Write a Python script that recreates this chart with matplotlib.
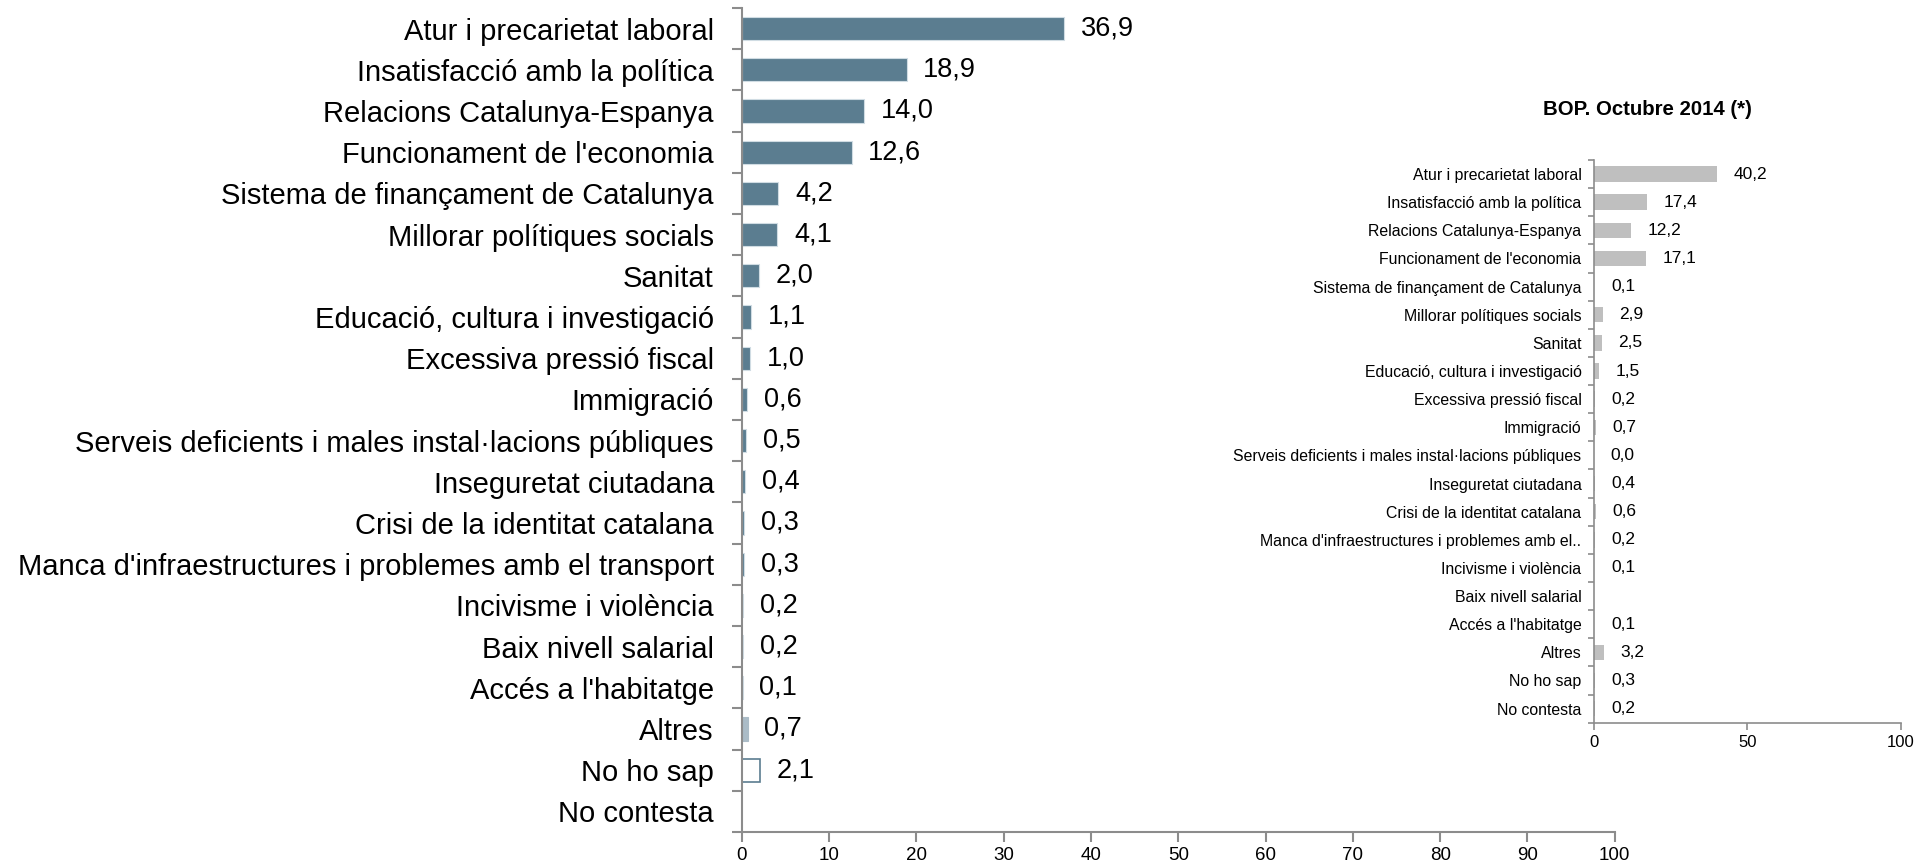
import numpy as np
import matplotlib.pyplot as plt

plt.rcParams["font.family"] = ["Liberation Sans", "DejaVu Sans"]

# Categories (left chart, top to bottom)
categories = [
    "Atur i precarietat laboral",
    "Insatisfacció amb la política",
    "Relacions Catalunya-Espanya",
    "Funcionament de l'economia",
    "Sistema de finançament de Catalunya",
    "Millorar polítiques socials",
    "Sanitat",
    "Educació, cultura i investigació",
    "Excessiva pressió fiscal",
    "Immigració",
    "Serveis deficients i males instal·lacions públiques",
    "Inseguretat ciutadana",
    "Crisi de la identitat catalana",
    "Manca d'infraestructures i problemes amb el transport",
    "Incivisme i violència",
    "Baix nivell salarial",
    "Accés a l'habitatge",
    "Altres",
    "No ho sap",
    "No contesta",
]
values_now = [36.9, 18.9, 14.0, 12.6, 4.2, 4.1, 2.0, 1.1, 1.0, 0.6,
              0.5, 0.4, 0.3, 0.3, 0.2, 0.2, 0.1, 0.7, 2.1, np.nan]

# BOP Octubre 2014 (right chart)
title_bop = "BOP. Octubre 2014 (*)"
categories_bop = categories[:13] + ["Manca d'infraestructures i problemes amb el.."] + categories[14:]
values_bop = [40.2, 17.4, 12.2, 17.1, 0.1, 2.9, 2.5, 1.5, 0.2, 0.7,
              0.0, 0.4, 0.6, 0.2, 0.1, np.nan, 0.1, 3.2, 0.3, 0.2]

fmt = lambda v: f"{v:.1f}".replace(".", ",")

fig = plt.figure(figsize=(19.23, 8.66), dpi=100)

# =========================
# Left chart
# =========================
ax = fig.add_axes([0.3857, 0.0393, 0.454, 0.9515])
y = np.arange(len(categories))
dark = "#5b7d90"
for i, v in enumerate(values_now):
    if np.isnan(v):
        continue
    if categories[i] == "Altres":
        ax.barh(i, v, height=0.56, color="#abbcc7", edgecolor="#abbcc7", linewidth=0.8)
    elif categories[i] == "No ho sap":
        ax.barh(i, v, height=0.56, color="white", edgecolor=dark, linewidth=1.2)
    else:
        ax.barh(i, v, height=0.56, color=dark, edgecolor="#d0dce3", linewidth=0.8)
    ax.annotate(fmt(v), (v, i), xytext=(12, 0), textcoords="offset points",
                ha="left", va="center", fontsize=19.5)

ax.set_xlim(0, 100)
ax.set_ylim(len(categories) - 0.5, -0.5)
ax.set_xticks(np.arange(0, 101, 10))
ax.set_yticks(y)
ax.set_yticklabels(categories, fontsize=21)
ax.set_yticks(np.arange(-0.5, len(categories), 1), minor=True)
ax.tick_params(axis="y", which="major", length=0, pad=20)
ax.tick_params(axis="y", which="minor", length=7, color="#8c8c8c", width=1.5)
ax.tick_params(axis="x", length=7, color="#8c8c8c", width=1.5, labelsize=13.5, pad=4)
for s in ["top", "right"]:
    ax.spines[s].set_visible(False)
for s in ["left", "bottom"]:
    ax.spines[s].set_color("#8c8c8c")
    ax.spines[s].set_linewidth(1.5)

# =========================
# Right chart
# =========================
ax2 = fig.add_axes([0.8289, 0.1655, 0.1595, 0.6497])
y2 = np.arange(len(categories_bop))
for i, v in enumerate(values_bop):
    if np.isnan(v):
        continue
    ax2.barh(i, v, height=0.55, color="#bfbfbf")
    ax2.annotate(fmt(v), (v, i), xytext=(12, 0), textcoords="offset points",
                 ha="left", va="center", fontsize=12.5)

ax2.set_xlim(0, 100)
ax2.set_ylim(len(categories_bop) - 0.5, -0.5)
ax2.set_xticks([0, 50, 100])
ax2.set_yticks(y2)
ax2.set_yticklabels(categories_bop, fontsize=11.4)
ax2.set_yticks(np.arange(-0.5, len(categories_bop), 1), minor=True)
ax2.tick_params(axis="y", which="major", length=0, pad=9)
ax2.tick_params(axis="y", which="minor", length=4, color="#8c8c8c", width=1.2)
ax2.tick_params(axis="x", length=5, color="#8c8c8c", width=1.2, labelsize=12, pad=4)
for s in ["top", "right"]:
    ax2.spines[s].set_visible(False)
for s in ["left", "bottom"]:
    ax2.spines[s].set_color("#8c8c8c")
    ax2.spines[s].set_linewidth(1.2)

fig.text(0.8565, 0.873, title_bop, ha="center", va="center",
         fontsize=14.7, fontweight="bold")

fig.savefig("out.png", dpi=100)
